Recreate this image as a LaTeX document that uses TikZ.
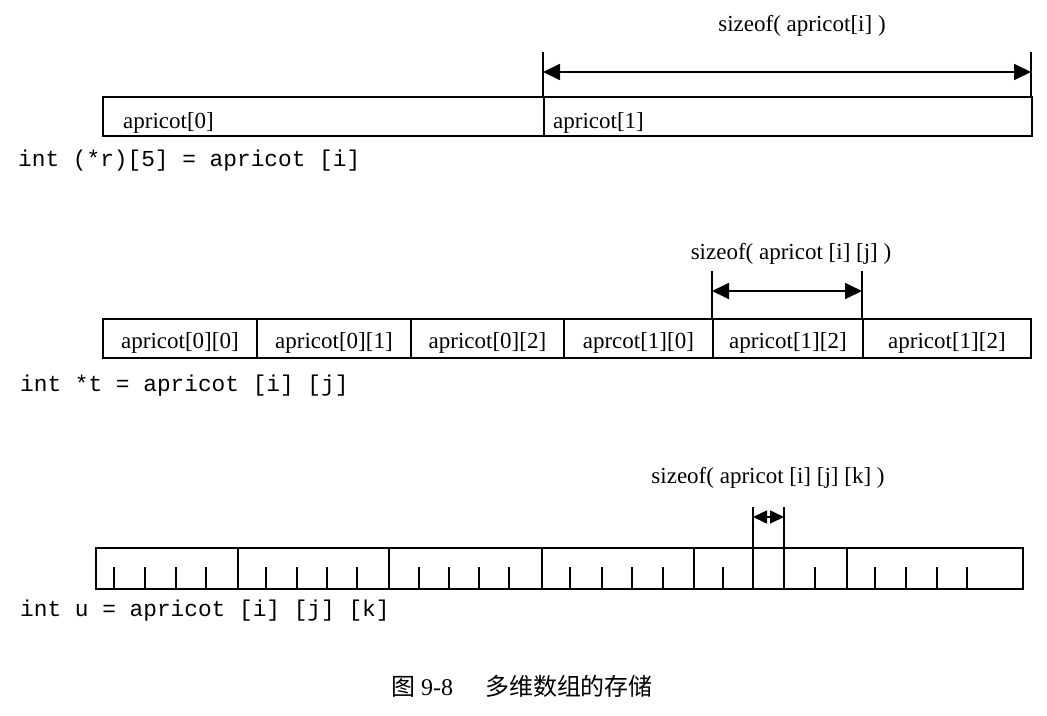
\documentclass[tikz,border=0pt]{standalone}
\usepackage{fontspec}
\setmainfont{Liberation Serif}
\setmonofont{Liberation Mono}
\newfontfamily\cjk{Noto Sans CJK SC}
\usetikzlibrary{arrows.meta}
\begin{document}
\begin{tikzpicture}[x=1pt,y=-1pt,
  cell/.style={draw, line width=1.8pt, rectangle, inner sep=0pt, anchor=north west, minimum height=39pt},
  lbl/.style={font=\fontsize{23}{26}\selectfont, inner sep=0pt},
  code/.style={font=\ttfamily\fontsize{22.8}{26}\selectfont, inner sep=0pt, anchor=west},
  ext/.style={line width=1.4pt},
  tick/.style={line width=1.4pt},
  dim/.style={line width=1.8pt, {Triangle[length=17pt,width=16pt]}-{Triangle[length=17pt,width=16pt]}},
  dimsmall/.style={line width=1.6pt, {Triangle[length=14pt,width=13pt]}-{Triangle[length=14pt,width=13pt]}}
]
\useasboundingbox (0,0) rectangle (1047,715);

% ---------- top row ----------
\node[cell, minimum width=441pt] (r0) at (102,96) {};
\node[cell, minimum width=488pt] (r1) at (543,96) {};
\node[lbl, anchor=west] (r0t) at (123,123) {apricot[0]};
\node[lbl, anchor=west] (r1t) at (553,123) {apricot[1]};
\coordinate (ra) at (543,52);
\coordinate (rb) at (1031,52);
\draw[ext] (ra) -- (ra |- r1.north);
\draw[ext] (rb) -- (rb |- r1.north);
\coordinate (raa) at (543,72);
\coordinate (rbb) at (1031,72);
\draw[dim] (raa) -- (rbb);
\node[lbl] (rs) at (802,26) {sizeof( apricot[i] )};
\node[code] (rc) at (18,161) {int (*r)[5] = apricot [i]};

% ---------- middle row ----------
\node[cell, minimum width=154pt] (m0) at (102,318) {};
\node[cell, minimum width=154pt] (m1) at (256,318) {};
\node[cell, minimum width=153pt] (m2) at (410,318) {};
\node[cell, minimum width=149pt] (m3) at (563,318) {};
\node[cell, minimum width=150pt] (m4) at (712,318) {};
\node[cell, minimum width=168pt] (m5) at (862,318) {};
\node[lbl] (m0t) at ([yshift=-5pt]m0.center) {apricot[0][0]};
\node[lbl] (m1t) at ([yshift=-5pt]m1.center) {apricot[0][1]};
\node[lbl] (m2t) at ([yshift=-5pt]m2.center) {apricot[0][2]};
\node[lbl] (m3t) at ([yshift=-5pt]m3.center) {aprcot[1][0]};
\node[lbl] (m4t) at ([yshift=-5pt]m4.center) {apricot[1][2]};
\node[lbl] (m5t) at ([yshift=-5pt]m5.center) {apricot[1][2]};
\coordinate (ma) at (712,271);
\coordinate (mb) at (862,271);
\draw[ext] (ma) -- (ma |- m4.north);
\draw[ext] (mb) -- (mb |- m4.north);
\coordinate (maa) at (712,291);
\coordinate (mbb) at (862,291);
\draw[dim] (maa) -- (mbb);
\node[lbl] (ms) at (791,254) {sizeof( apricot [i] [j] )};
\node[code] (mc) at (20,386) {int *t = apricot [i] [j]};

% ---------- bottom row ----------
\node[cell, minimum width=142pt, minimum height=41pt] (b0) at (95,547) {};
\node[cell, minimum width=151pt, minimum height=41pt] (b1) at (237,547) {};
\node[cell, minimum width=153pt, minimum height=41pt] (b2) at (388,547) {};
\node[cell, minimum width=152pt, minimum height=41pt] (b3) at (541,547) {};
\node[cell, minimum width=153pt, minimum height=41pt] (b4) at (693,547) {};
\node[cell, minimum width=176pt, minimum height=41pt] (b5) at (846,547) {};
\foreach \x in {114,145,176,206, 266,297,327,357, 419,449,479,509, 570,602,632,663, 723,815, 875,906,937,967}
  \draw[tick] (\x,567) -- (\x,588);
\coordinate (ba) at (753,507);
\coordinate (bb) at (784,507);
\draw[ext] (ba) -- (ba |- b4.south);
\draw[ext] (bb) -- (bb |- b4.south);
\coordinate (baa) at (753,517);
\coordinate (bbb) at (784,517);
\draw[dimsmall] (baa) -- (bbb);
\node[lbl] (bs) at (768,478) {sizeof( apricot [i] [j] [k] )};
\node[code] (bc) at (20,611) {int u = apricot [i] [j] [k]};

% ---------- caption ----------
\node[inner sep=0pt, font=\fontsize{24}{27}\selectfont] (cap) at (522,686) {{\cjk 图} 9-8\hspace{32pt}{\cjk 多维数组的存储}};
\end{tikzpicture}
\end{document}
